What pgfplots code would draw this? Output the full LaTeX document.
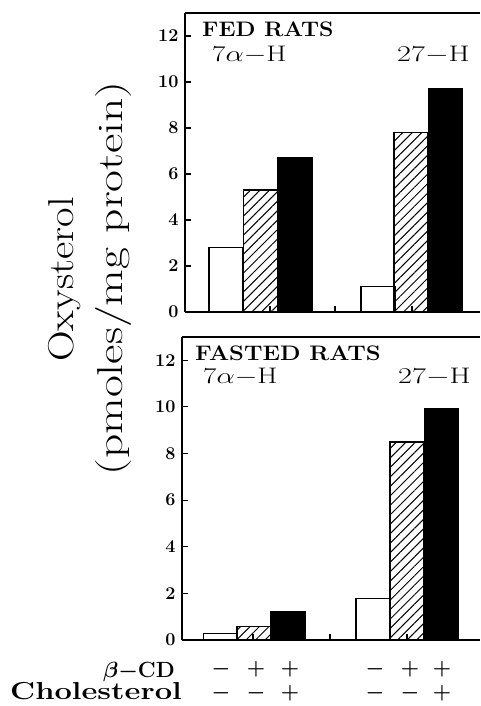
\RequirePackage{fix-cm}
\documentclass[border=0pt]{standalone}
\usepackage{fontspec}
\usepackage{pgfplots}
\pgfplotsset{compat=1.18}
\usetikzlibrary{patterns.meta}
\tikzset{hatchst/.style={pattern={Lines[angle=45,distance=6.7pt,line width=1pt]}}}
\pgfplotsset{
  panel/.style={
    scale only axis, anchor=south west,
    axis x line*=box, axis y line*=left,
    ymin=0, ymax=13, xmin=0,
    ytick={0,2,4,6,8,10,12},
    xticklabels={},
    xtick pos=left, ytick pos=left,
    tick align=inside, major tick length=6pt,
    axis line style={line width=1.3pt},
    every tick/.style={black, line width=1.1pt},
    yticklabel style={font=\fontsize{18}{18}\selectfont\bfseries, xshift=-3pt},
    /pgf/number format/assume math mode=true,
    clip=false,
  },
  barw/.style={ybar, bar width=34, bar shift=0pt, draw=black, line width=1.3pt},
}
\begin{document}
\begin{tikzpicture}
% top panel
\begin{axis}[panel, at={(185pt,394pt)}, width=295pt, height=299pt, xmax=295,
  xtick={85,150,227}]
\addplot[barw, fill=white] coordinates {(41,2.8) (193,1.12)};
\addplot[barw, hatchst] coordinates {(75.5,5.3) (226,7.8)};
\addplot[barw, fill=black] coordinates {(110,6.7) (260.5,9.7)};
\end{axis}
% bottom panel
\begin{axis}[panel, at={(182pt,66pt)}, width=298pt, height=303pt, xmax=298,
  xtick={71,148,225}]
\addplot[barw, fill=white] coordinates {(38.5,0.28) (191,1.78)};
\addplot[barw, hatchst] coordinates {(72,0.58) (225,8.49)};
\addplot[barw, fill=black] coordinates {(106,1.2) (259.5,9.93)};
\begin{scope}[every node/.style={font=\fontsize{21}{21}\selectfont\boldmath, inner sep=0pt}]
\node at (axis cs:39,-1.244) {$-$};
\node at (axis cs:74,-1.244) {$+$};
\node at (axis cs:108,-1.244) {$+$};
\node at (axis cs:193,-1.244) {$-$};
\node at (axis cs:228,-1.244) {$+$};
\node at (axis cs:260,-1.244) {$+$};
\node at (axis cs:39,-2.274) {$-$};
\node at (axis cs:74,-2.274) {$-$};
\node at (axis cs:108,-2.274) {$+$};
\node at (axis cs:193,-2.274) {$-$};
\node at (axis cs:228,-2.274) {$-$};
\node at (axis cs:260,-2.274) {$+$};
\end{scope}
\end{axis}
% panel texts
\node[anchor=base west, inner sep=0pt, font=\fontsize{21}{21}\selectfont\bfseries] at (202pt,669pt) {\scalebox{1.1}[1]{FED RATS}};
\node[anchor=base west, inner sep=0pt, font=\fontsize{22.5}{22.5}\selectfont] at (212pt,644pt) {\scalebox{1.29}[1]{$7\alpha-$H}};
\node[anchor=base west, inner sep=0pt, font=\fontsize{22.5}{22.5}\selectfont] at (397pt,644pt) {\scalebox{1.35}[1]{$27-$H}};
\node[anchor=base west, inner sep=0pt, font=\fontsize{21}{21}\selectfont\bfseries] at (195pt,345pt) {\scalebox{1.13}[1]{FASTED RATS}};
\node[anchor=base west, inner sep=0pt, font=\fontsize{22.5}{22.5}\selectfont] at (203pt,322pt) {\scalebox{1.29}[1]{$7\alpha-$H}};
\node[anchor=base west, inner sep=0pt, font=\fontsize{22.5}{22.5}\selectfont] at (398pt,322pt) {\scalebox{1.35}[1]{$27-$H}};
% y label
\node[rotate=90, anchor=base, inner sep=0pt, font=\fontsize{36}{36}\selectfont] at (73pt,426.5pt) {\scalebox{1.18}[1]{Oxysterol}};
\node[rotate=90, anchor=base, inner sep=0pt, font=\fontsize{36}{36}\selectfont] at (122pt,427.5pt) {\scalebox{1.32}[1]{(pmoles/mg protein)}};
% row labels
\node[anchor=base east, inner sep=0pt, font=\fontsize{22}{22}\selectfont\bfseries\boldmath] at (175pt,28pt) {$\beta-$CD};
\node[anchor=base east, inner sep=0pt, font=\fontsize{24.5}{24.5}\selectfont\bfseries] at (182pt,6pt) {\scalebox{1.26}[1]{Cholesterol}};
\path (0,0) (480pt,706pt);
\end{tikzpicture}
\end{document}
